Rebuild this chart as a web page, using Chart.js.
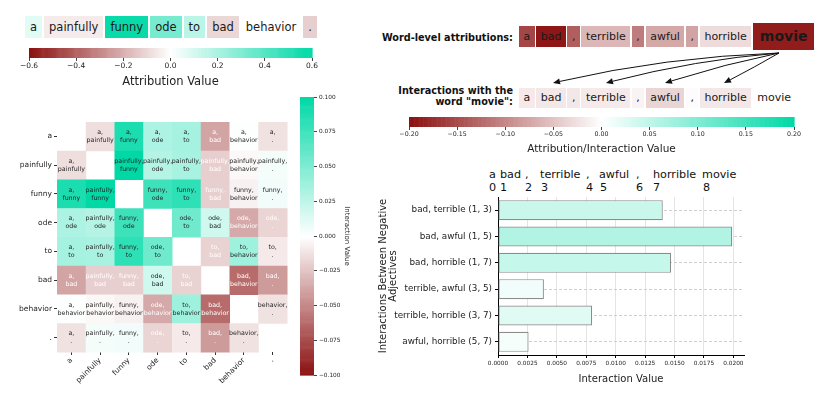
<!DOCTYPE html>
<html><head><meta charset="utf-8">
<script src="https://cdn.jsdelivr.net/npm/chart.js@4.4.1/dist/chart.umd.min.js"></script>
<style>
html,body{margin:0;padding:0;background:#fff;}
body{width:822px;height:397px;position:relative;overflow:hidden;font-family:"DejaVu Sans",sans-serif;color:#1a1a1a;}
canvas{position:absolute;}
.row{position:absolute;display:flex;align-items:center;}
.tok{box-sizing:border-box;text-align:center;white-space:pre;}
.lbl{position:absolute;font-weight:bold;text-align:right;white-space:nowrap;color:#111;}
.ann{position:absolute;font-size:11.2px;line-height:14px;white-space:pre;color:#111;}
</style></head><body>
<div id="sent" class="row" style="left:25px;top:16px;gap:2px;"></div>
<div class="lbl" style="right:309px;top:32px;font-size:9.7px;line-height:12px;">Word-level attributions:</div>
<div id="wordRow" class="row" style="left:519px;top:23px;height:27px;gap:1.5px;"></div>
<div class="lbl" style="right:309px;top:86px;font-size:9.7px;line-height:10.5px;">Interactions with the<br>word "movie":</div>
<div id="interRow" class="row" style="left:519px;top:88px;height:20px;gap:1.5px;"></div>
<div id="annot"></div>
<canvas id="arrows" width="822" height="397" style="left:0;top:0"></canvas>
<canvas id="cbTop" width="330" height="50" style="left:0;top:40px"></canvas>
<canvas id="cbRight" width="452" height="47" style="left:370px;top:110px"></canvas>
<canvas id="heat" width="300" height="297" style="left:0;top:100px"></canvas>
<canvas id="cbHeat" width="70" height="300" style="left:286px;top:90px"></canvas>
<canvas id="bars" width="452" height="237" style="left:370px;top:160px"></canvas>
<script>
// ---------- data ----------
const sentWords = ['a','painfully','funny','ode','to','bad','behavior','.'];
const sentAttr  = [0.07,-0.05,0.58,0.32,0.16,-0.10,0.0,-0.12];

const heatWords = ['a','painfully','funny','ode','to','bad','behavior','.'];
const heatValues = [
  [null,-0.014,0.089,0.032,0.035,-0.038,0.001,-0.012],
  [-0.014,null,0.100,0.029,0.034,-0.020,-0.003,0.004],
  [0.089,0.100,null,0.076,0.082,-0.020,-0.006,0.005],
  [0.032,0.029,0.076,null,0.056,0.019,-0.036,-0.018],
  [0.035,0.034,0.082,0.056,null,-0.019,0.038,-0.009],
  [-0.038,-0.020,-0.020,0.019,-0.019,null,-0.062,-0.042],
  [0.001,-0.003,-0.006,-0.036,0.038,-0.062,null,-0.012],
  [-0.012,0.004,0.005,-0.018,-0.009,-0.042,-0.012,null]
];

const movieWords = ['a','bad',',','terrible',',','awful',',','horrible','movie'];
const wordAttr   = [-0.155,-0.195,-0.135,-0.06,-0.11,-0.073,-0.077,-0.03,-0.19];
const movieInter = [-0.018,-0.02,-0.02,-0.018,-0.01,-0.036,-0.003,-0.02,null];
const tokenIndex = ['0','1','2','3','4','5','6','7','8'];

const pairLabels = ['bad, terrible (1, 3)','bad, awful (1, 5)','bad, horrible (1, 7)',
                    'terrible, awful (3, 5)','terrible, horrible (3, 7)','awful, horrible (5, 7)'];
const pairValues = [0.0140,0.0199,0.0147,0.0039,0.0080,0.0026];

const sentRange = 0.6, heatRange = 0.1, movieRange = 0.2, barColorRange = 0.066;

// ---------- colour map ----------
const LO=[139,16,16], HI=[0,217,166];
function cmap(t){
  t=Math.max(-1,Math.min(1,t));
  const c=t<0?LO:HI, f=Math.abs(t);
  return 'rgb('+[0,1,2].map(i=>Math.round(255+(c[i]-255)*f)).join(',')+')';
}
const minus = s => s.replace('-','\u2212');
function fmt(v,d){ if(Math.abs(v)<1e-9) v=0; return minus(v.toFixed(d)); }

// ---------- token rows ----------
function buildRow(id, words, vals, range, o){
  const row=document.getElementById(id);
  words.forEach((w,i)=>{
    const s=document.createElement('span'); s.className='tok'; s.textContent=w;
    const big = o.big && i===words.length-1;
    s.style.height=(big?o.bigH:o.h)+'px'; s.style.lineHeight=(big?o.bigH:o.h)+'px';
    s.style.padding='0 '+(big?o.bigPad:o.pad)+'px';
    s.style.fontSize=(big?o.bigFont:o.font)+'px';
    if(big) s.style.fontWeight='bold';
    if(vals[i]!=null) s.style.background=cmap(vals[i]/range);
    row.appendChild(s);
  });
}
buildRow('sent', sentWords, sentAttr, sentRange, {h:22,pad:5,font:11.5});
buildRow('wordRow', movieWords, wordAttr, movieRange, {h:21,pad:4.5,font:11,big:true,bigH:27,bigPad:7,bigFont:14});
buildRow('interRow', movieWords, movieInter, movieRange, {h:20,pad:4.5,font:11});

// annotation above bar chart
const tokX=[489,500,525,540,586,599,636,653,702], idxX=[489,500,525,541,586,600,636,653,703];
const ann=document.getElementById('annot');
movieWords.forEach((w,i)=>{
  const a=document.createElement('div'); a.className='ann'; a.textContent=w;
  a.style.left=tokX[i]+'px'; a.style.top='168px'; ann.appendChild(a);
  const b=document.createElement('div'); b.className='ann'; b.textContent=tokenIndex[i];
  b.style.left=idxX[i]+'px'; b.style.top='181px'; ann.appendChild(b);
});

// arrows
(function(){
  const ctx=document.getElementById('arrows').getContext('2d');
  const start=[779,53];
  const ends=[[553,83],[606,83],[665,83],[724,83]];
  const ctrls=[[665,57],[695,60],[725,64],[755,67]];
  ctx.strokeStyle='#111'; ctx.fillStyle='#111'; ctx.lineWidth=1;
  ends.forEach((e,i)=>{
    const c=ctrls[i];
    const ang=Math.atan2(e[1]-c[1],e[0]-c[0]);
    const L=7, W=3;
    const bx=e[0]-L*Math.cos(ang), by=e[1]-L*Math.sin(ang);
    ctx.beginPath(); ctx.moveTo(start[0],start[1]); ctx.quadraticCurveTo(c[0],c[1],bx,by); ctx.stroke();
    ctx.beginPath(); ctx.moveTo(e[0],e[1]);
    ctx.lineTo(bx+W*Math.sin(ang), by-W*Math.cos(ang));
    ctx.lineTo(bx-W*Math.sin(ang), by+W*Math.cos(ang));
    ctx.closePath(); ctx.fill();
  });
})();

// ---------- Chart.js ----------
Chart.defaults.font.family='"DejaVu Sans", sans-serif';
Chart.defaults.color='#262626';
const noPlug={legend:{display:false},tooltip:{enabled:false}};

function gradPlugin(vmin,vmax,axis){
  return {id:'grad'+axis, beforeDatasetsDraw(chart){
    const s=chart.scales[axis], a=chart.chartArea, ctx=chart.ctx, n=300;
    for(let k=0;k<n;k++){
      const v0=vmin+(vmax-vmin)*k/n, v1=vmin+(vmax-vmin)*(k+1)/n;
      const p0=s.getPixelForValue(v0), p1=s.getPixelForValue(v1);
      ctx.fillStyle=cmap(((v0+v1)/2)/vmax);
      if(axis==='x') ctx.fillRect(Math.min(p0,p1),a.top,Math.abs(p1-p0)+0.6,a.bottom-a.top);
      else ctx.fillRect(a.left,Math.min(p0,p1),a.right-a.left,Math.abs(p1-p0)+0.6);
    }
  }};
}

function hColorbar(id,vmin,vmax,step,dec,tickFont,title,titleFont,pad,axH){
  new Chart(document.getElementById(id),{
    type:'scatter', data:{datasets:[]},
    options:{responsive:false,animation:false,plugins:noPlug,layout:{padding:pad},
      scales:{
        x:{type:'linear',min:vmin,max:vmax,
           ticks:{stepSize:step,callback:v=>fmt(v,dec),font:{size:tickFont},maxRotation:0,autoSkip:false,padding:1,color:'#222'},
           grid:{drawOnChartArea:false,tickLength:3,color:'#444'},border:{display:false},
           title:{display:true,text:title,font:{size:titleFont,lineHeight:1.1},padding:{top:1,bottom:0},color:'#222'},
           afterFit(s){s.height=axH;}},
        y:{display:false,min:0,max:1}
      }},
    plugins:[gradPlugin(vmin,vmax,'x')]
  });
}
hColorbar('cbTop',-sentRange,sentRange,0.2,1,7.5,'Attribution Value',11.5,{left:29,right:18,top:8,bottom:2},30);
hColorbar('cbRight',-movieRange,movieRange,0.05,2,6.3,'Attribution/Interaction Value',10.5,{left:39,right:28,top:7,bottom:2},28);

// heat colorbar
new Chart(document.getElementById('cbHeat'),{
  type:'scatter', data:{datasets:[]},
  options:{responsive:false,animation:false,plugins:noPlug,layout:{padding:{left:14,right:2,top:7,bottom:15}},
    scales:{
      x:{display:false,min:0,max:1},
      y:{type:'linear',position:'right',min:-heatRange,max:heatRange,
         ticks:{stepSize:0.025,callback:v=>fmt(v,3),font:{size:5.8},padding:2,color:'#222'},
         grid:{drawOnChartArea:false,tickLength:3,color:'#444'},border:{display:false},
         title:{display:true,text:'Interaction Value',font:{size:7},padding:{top:3,bottom:0},color:'#222'},
         afterFit(s){s.width=40;}}
    }},
  plugins:[gradPlugin(-heatRange,heatRange,'y')]
});

// heatmap
const heatPlugin={id:'heat', beforeDatasetsDraw(chart){
  const {ctx,scales:{x,y}}=chart;
  const n=heatWords.length, cw=x.width/n, ch=y.height/n;
  ctx.save();
  ctx.textAlign='center'; ctx.textBaseline='middle';
  ctx.font='6.3px "DejaVu Sans", sans-serif';
  for(let i=0;i<n;i++) for(let j=0;j<n;j++){
    const v=heatValues[i][j]; if(v==null) continue;
    const cx=x.getPixelForValue(j), cy=y.getPixelForValue(i);
    ctx.fillStyle=cmap(v/heatRange);
    ctx.fillRect(cx-cw/2,cy-ch/2,cw+0.5,ch+0.5);
  }
  for(let i=0;i<n;i++) for(let j=0;j<n;j++){
    const v=heatValues[i][j]; if(v==null) continue;
    const cx=x.getPixelForValue(j), cy=y.getPixelForValue(i);
    const a=Math.min(i,j), b=Math.max(i,j);
    ctx.fillStyle = v < -0.016 ? '#ffffff' : '#262626';
    ctx.fillText(heatWords[a]+',',cx,cy-4);
    ctx.fillText(heatWords[b],cx,cy+4);
  }
  ctx.restore();
}};
new Chart(document.getElementById('heat'),{
  type:'scatter', data:{datasets:[]},
  options:{responsive:false,animation:false,plugins:noPlug,layout:{padding:{top:22,right:13,left:0,bottom:0}},
    scales:{
      x:{type:'category',labels:heatWords,offset:true,
         grid:{drawOnChartArea:false,offset:false,tickLength:3,color:'#333'},border:{display:false},
         ticks:{font:{size:7.5},minRotation:45,maxRotation:45,autoSkip:false,padding:1,color:'#262626'},
         afterFit(s){s.height=45;}},
      y:{type:'category',labels:heatWords,offset:true,
         grid:{drawOnChartArea:false,offset:false,tickLength:3,color:'#333'},border:{display:false},
         ticks:{font:{size:7.5},autoSkip:false,padding:2,color:'#262626'},
         afterFit(s){s.width=57;}}
    }},
  plugins:[heatPlugin]
});

// bar chart
new Chart(document.getElementById('bars'),{
  type:'bar',
  data:{labels:pairLabels,datasets:[{data:pairValues,
    backgroundColor:pairValues.map(v=>cmap(v/barColorRange)),
    borderColor:'#8c8c8c',borderWidth:1.2,borderSkipped:false,
    barPercentage:0.76,categoryPercentage:1}]},
  options:{indexAxis:'y',responsive:false,animation:false,plugins:noPlug,
    layout:{padding:{top:37,right:78,left:4,bottom:12}},
    scales:{
      x:{min:0,max:0.0209,
         ticks:{stepSize:0.0025,includeBounds:false,callback:v=>v.toFixed(4),font:{size:5.8},autoSkip:false,maxRotation:0,padding:2,color:'#222'},
         grid:{color:'#e4e4e4',tickColor:'#000',tickLength:3},border:{color:'#000'},
         title:{display:true,text:'Interaction Value',font:{size:10,lineHeight:1.2},padding:{top:1,bottom:0},color:'#222'},
         afterFit(s){s.height=30;}},
      y:{ticks:{font:{size:8.8},padding:3,color:'#222'},
         grid:{offset:false,color:'#cfcfcf',tickColor:'#000',tickLength:3},border:{color:'#000',dash:[3,2]},
         title:{display:true,text:['Interactions Between Negative','Adjectives'],font:{size:10,lineHeight:1.0},padding:{top:4,bottom:0},color:'#222'},
         afterFit(s){s.width=124;}}
    }}
});
</script>
</body></html>
